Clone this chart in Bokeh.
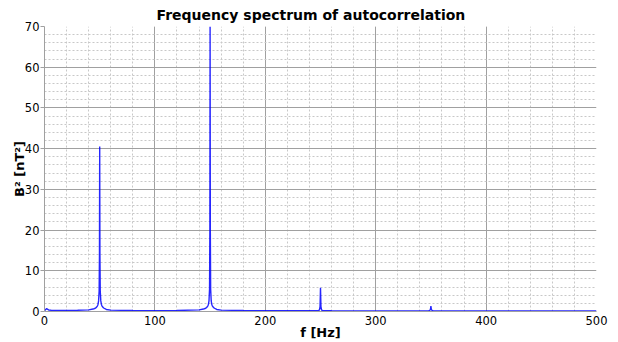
from bokeh.plotting import figure
from bokeh.models import Range1d, SingleIntervalTicker
from bokeh.embed import file_html
from bokeh.resources import INLINE

title_text = "Frequency spectrum of autocorrelation"
x_label = "f [Hz]"
y_label = "B\u00b2 [nT\u00b2]"

freq = [0, 1, 2, 3, 4, 6, 10, 20, 30, 40, 44, 46, 47, 48, 48.5, 49, 49.5, 49.8, 50, 50.2, 50.5, 51, 51.5,
        52, 53, 54, 56, 60, 80, 100, 120, 140, 144, 146, 147, 148, 148.5, 149, 149.5, 149.8, 150, 150.2,
        150.5, 151, 151.5, 152, 153, 154, 156, 160, 180, 200, 220, 240, 248, 249, 249.6, 250, 250.4, 251,
        252, 260, 300, 340, 348, 349, 349.6, 350, 350.4, 351, 352, 360, 400, 450, 500]
power = [0.2, 0.5, 0.7, 0.5, 0.35, 0.3, 0.25, 0.25, 0.3, 0.4, 0.6, 0.8, 1.0, 1.4, 1.8, 2.6, 5.0, 14.0, 40.5, 14.0,
         5.0, 2.6, 1.8, 1.4, 1.0, 0.8, 0.5, 0.35, 0.25, 0.2, 0.25, 0.4, 0.6, 0.8, 1.0, 1.4, 1.8, 2.6, 5.5, 20.0,
         70.0, 20.0, 5.5, 2.6, 1.8, 1.4, 1.0, 0.8, 0.5, 0.35, 0.25, 0.2, 0.2, 0.2, 0.25, 0.35, 1.2, 5.8, 1.2, 0.35,
         0.25, 0.2, 0.15, 0.15, 0.2, 0.25, 0.5, 1.3, 0.5, 0.25, 0.2, 0.15, 0.15, 0.15, 0.15]

p = figure(width=618, height=342, output_backend="svg", toolbar_location=None,
           x_range=Range1d(0, 500), y_range=Range1d(0, 70))
p.title.text = title_text
p.title.align = "left"
p.title.offset = 112
p.title.text_font = "DejaVu Sans"
p.title.text_font_size = "14px"
p.title.text_font_style = "bold"
p.title.text_color = "black"
p.title.standoff = 8

p.min_border_left = 44
p.min_border_right = 22
p.min_border_top = 4
p.min_border_bottom = 0
p.outline_line_color = None
p.background_fill_color = "white"

p.xaxis.ticker = SingleIntervalTicker(interval=100, num_minor_ticks=5)
p.yaxis.ticker = SingleIntervalTicker(interval=10, num_minor_ticks=5)

for ax in (p.xaxis[0], p.yaxis[0]):
    ax.axis_line_color = "#a0a0a0"
    ax.major_tick_line_color = "#a0a0a0"
    ax.minor_tick_line_color = None
    ax.major_tick_in = 0
    ax.major_tick_out = 4
    ax.major_label_text_font = "DejaVu Sans"
    ax.major_label_text_font_size = "11.5px"
    ax.major_label_text_color = "black"
    ax.axis_label_text_font = "DejaVu Sans"
    ax.axis_label_text_font_size = "13px"
    ax.axis_label_text_font_style = "bold"
    ax.axis_label_text_color = "black"

p.xaxis.major_tick_out = 0
p.xaxis.axis_label = x_label
p.yaxis.axis_label = y_label
p.xaxis.axis_label_standoff = -3
p.yaxis.axis_label_standoff = -5
p.xaxis.major_label_standoff = 0
p.yaxis.major_label_standoff = 1

p.xgrid.grid_line_color = "#a0a0a0"
p.ygrid.grid_line_color = "#a0a0a0"
p.xgrid.minor_grid_line_color = "#c8c8c8"
p.ygrid.minor_grid_line_color = "#c8c8c8"
p.xgrid.minor_grid_line_dash = "2 2"
p.ygrid.minor_grid_line_dash = "2 2"

p.line(freq, power, line_color="#0000ff", line_width=1.4, line_alpha=0.85)

open("out.html", "w").write(file_html(p, INLINE))
